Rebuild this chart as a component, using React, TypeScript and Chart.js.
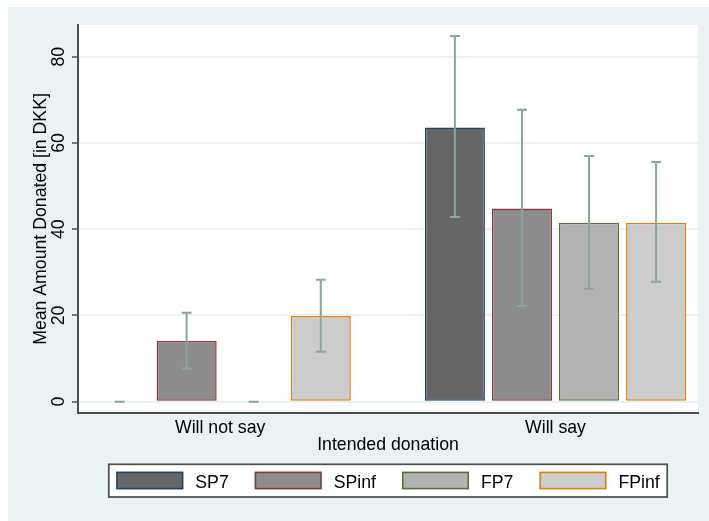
import React, { useEffect, useRef } from 'react';
import { Chart, registerables } from 'chart.js';

Chart.register(...registerables);

// ---- data ----
const categories = ['Will not say', 'Will say'];
const seriesNames = ['SP7', 'SPinf', 'FP7', 'FPinf'];
const sp7Mean = [0, 63.6];
const sp7Lo = [0, 42.8];
const sp7Hi = [0, 84.8];
const spinfMean = [14.1, 44.8];
const spinfLo = [7.7, 22.2];
const spinfHi = [20.6, 67.7];
const fp7Mean = [0, 41.5];
const fp7Lo = [0, 26.2];
const fp7Hi = [0, 57.0];
const fpinfMean = [19.9, 41.5];
const fpinfLo = [11.6, 27.8];
const fpinfHi = [28.3, 55.6];
const yTickValues = [0, 20, 40, 60, 80];
const yAxisTitle = 'Mean Amount Donated [in DKK]';
const xAxisTitle = 'Intended donation';

// ---- styles ----
const FONT = 'Arial, "Liberation Sans", Helvetica, sans-serif';
const FS = 17.7;
const fillColors = ['#666666', '#8c8c8c', '#b2b2b2', '#cccccc'];
const borderColors = ['#1a476f', '#90353b', '#55752f', '#e37e00'];
const BG = '#eaf2f3';
const AXIS = '#4d4d4d';
const ERR = '#8aa69b';

const means = [sp7Mean, spinfMean, fp7Mean, fpinfMean];
const los = [sp7Lo, spinfLo, fp7Lo, fpinfLo];
const his = [sp7Hi, spinfHi, fp7Hi, fpinfHi];

const bgPlugin = {
  id: 'bgPlugin',
  beforeDraw(chart: any) {
    const { ctx, chartArea: a } = chart;
    ctx.save();
    ctx.fillStyle = BG;
    ctx.fillRect(0, 0, chart.width, chart.height);
    ctx.fillStyle = '#ffffff';
    ctx.fillRect(a.left, a.top, a.right - a.left, a.bottom - a.top);
    ctx.restore();
  },
};

const errPlugin = {
  id: 'errPlugin',
  afterDatasetsDraw(chart: any) {
    const { ctx } = chart;
    const ys = chart.scales.y;
    ctx.save();
    ctx.strokeStyle = ERR;
    ctx.lineWidth = 2;
    ctx.lineCap = 'butt';
    for (let i = 0; i < means.length; i++) {
      const meta = chart.getDatasetMeta(i);
      meta.data.forEach((bar: any, j: number) => {
        const x = bar.x;
        const y1 = ys.getPixelForValue(los[i][j]);
        const y2 = ys.getPixelForValue(his[i][j]);
        const cw = 5;
        ctx.beginPath();
        ctx.moveTo(x, y1);
        ctx.lineTo(x, y2);
        ctx.moveTo(x - cw, y1);
        ctx.lineTo(x + cw, y1);
        ctx.moveTo(x - cw, y2);
        ctx.lineTo(x + cw, y2);
        ctx.stroke();
      });
    }
    ctx.restore();
  },
};

const legendPlugin = {
  id: 'legendPlugin',
  afterDraw(chart: any) {
    const { ctx, chartArea: a } = chart;
    ctx.save();
    ctx.font = `${FS}px ${FONT}`;
    const sw = 67, sh = 17.6, gap = 12, spacing = 26, inset = 7.5;
    const widths = seriesNames.map((n) => ctx.measureText(n).width);
    let total = 0;
    widths.forEach((w, i) => {
      total += sw + gap + w + (i < widths.length - 1 ? spacing : 0);
    });
    const cx = (a.left + a.right) / 2;
    const frameL = cx - total / 2 - inset;
    const frameW = total + inset * 2;
    const frameT = a.bottom + 51.3;
    const frameH = 32.7;
    ctx.fillStyle = '#ffffff';
    ctx.fillRect(frameL, frameT, frameW, frameH);
    ctx.strokeStyle = AXIS;
    ctx.lineWidth = 1.7;
    ctx.strokeRect(frameL, frameT, frameW, frameH);
    let x = cx - total / 2;
    const sy = frameT + 7.4;
    seriesNames.forEach((n, i) => {
      ctx.fillStyle = fillColors[i];
      ctx.fillRect(x, sy, sw, sh);
      ctx.strokeStyle = borderColors[i];
      ctx.lineWidth = 1.5;
      ctx.strokeRect(x + 0.75, sy + 0.75, sw - 1.5, sh - 1.5);
      ctx.fillStyle = '#000000';
      ctx.textBaseline = 'alphabetic';
      ctx.textAlign = 'left';
      ctx.fillText(n, x + sw + gap, sy + 16.6);
      x += sw + gap + widths[i] + spacing;
    });
    ctx.restore();
  },
};

export default function App() {
  const ref = useRef<HTMLCanvasElement | null>(null);

  useEffect(() => {
    if (!ref.current) return;
    const datasets = seriesNames.map((name, i) => ({
      label: name,
      data: means[i].map((v, j) => ({ x: j, y: v })),
      backgroundColor: fillColors[i],
      borderColor: borderColors[i],
      borderWidth: 1.5,
      borderSkipped: false,
      categoryPercentage: 0.8,
      barPercentage: 0.8955,
    }));
    const chart = new Chart(ref.current, {
      type: 'bar',
      data: { datasets },
      plugins: [bgPlugin, errPlugin, legendPlugin],
      options: {
        responsive: false,
        animation: false,
        layout: { padding: { left: 11, right: 11, top: 18, bottom: 65.5 } },
        plugins: {
          legend: { display: false },
          tooltip: { enabled: false },
        },
        scales: {
          x: {
            type: 'linear',
            min: -0.424,
            max: 1.425,
            offset: false,
            afterBuildTicks: (s: any) => {
              s.ticks = categories.map((_, i) => ({ value: i }));
            },
            afterFit: (s: any) => {
              s.height = 42.5;
            },
            grid: { display: true, drawOnChartArea: false, drawTicks: false },
            border: { display: true, color: AXIS, width: 2 },
            ticks: {
              autoSkip: false,
              maxRotation: 0,
              minRotation: 0,
              padding: 4,
              color: '#000000',
              font: { family: FONT, size: FS },
              callback: (v: any) => categories[v] ?? '',
            },
            title: {
              display: true,
              text: xAxisTitle,
              color: '#000000',
              font: { family: FONT, size: FS },
              padding: { top: 0, bottom: 0 },
            },
          },
          y: {
            type: 'linear',
            min: -2.62,
            max: 87.35,
            afterBuildTicks: (s: any) => {
              s.ticks = yTickValues.map((v) => ({ value: v }));
            },
            afterFit: (s: any) => {
              s.width = 59;
            },
            grid: {
              color: BG,
              lineWidth: 2,
              drawTicks: true,
              tickLength: 6,
              tickColor: AXIS,
              tickWidth: 1.5,
            },
            border: { display: true, color: AXIS, width: 2 },
            ticks: {
              minRotation: 90,
              maxRotation: 90,
              crossAlign: 'center',
              padding: 3,
              color: '#000000',
              font: { family: FONT, size: FS },
            },
            title: {
              display: true,
              text: yAxisTitle,
              color: '#000000',
              font: { family: FONT, size: FS },
              padding: { top: 11, bottom: 0 },
            },
          },
        },
      } as any,
    });
    return () => chart.destroy();
  }, []);

  return (
    <div style={{ position: 'fixed', left: 8, top: 7 }}>
      <canvas ref={ref} width={701} height={514} style={{ display: 'block' }} />
    </div>
  );
}
